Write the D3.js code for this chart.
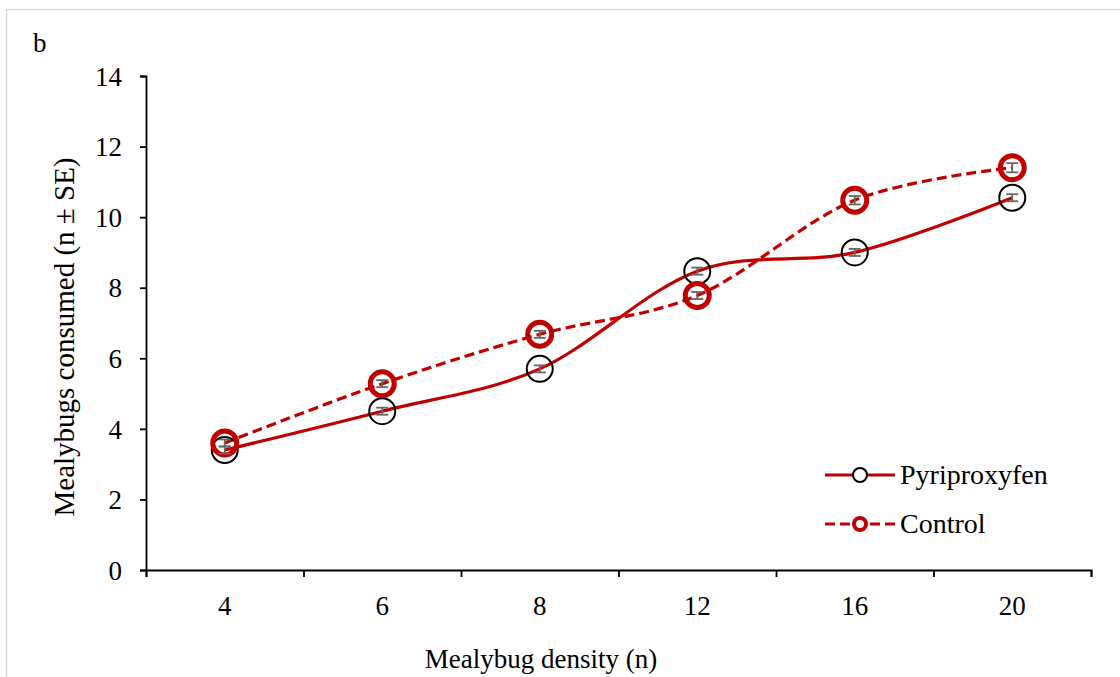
<!DOCTYPE html>
<html>
<head>
  <meta charset="utf-8">
  <title>Mealybugs consumed</title>
  <script src="https://d3js.org/d3.v7.min.js"></script>
  <style>
    body { margin: 0; background: #fff; }
  </style>
</head>
<body>
<div id="chart"></div>
<script>

// Data
const densities = ["4", "6", "8", "12", "16", "20"];
const pyriproxyfen = [3.4, 4.5, 5.7, 8.47, 9.0, 10.55];
const pyriSE = [0.1, 0.1, 0.1, 0.1, 0.1, 0.1];
const control = [3.6, 5.28, 6.68, 7.78, 10.48, 11.4];
const controlSE = [0.1, 0.1, 0.1, 0.1, 0.12, 0.13];
const yTicks = [0, 2, 4, 6, 8, 10, 12, 14];

const FONT = "'Liberation Serif', 'Times New Roman', Times, 'DejaVu Serif', serif";
const FS = 27;

const W = 1120, H = 677;
const margin = {top: 76, right: 29, bottom: 107, left: 146},
    width = W - margin.left - margin.right,
    height = H - margin.top - margin.bottom;

const svg = d3.select("#chart").append("svg")
    .attr("width", W)
    .attr("height", H)
    .attr("font-family", FONT);

// light frame around the figure
svg.append("rect")
    .attr("x", 6.5).attr("y", 9.5)
    .attr("width", 1300).attr("height", 900)
    .attr("fill", "none")
    .attr("stroke", "#d9d9d9")
    .attr("stroke-width", 1.5);

svg.append("text")
    .attr("x", 33).attr("y", 52)
    .attr("font-family", FONT)
    .attr("font-size", FS)
    .text("b");

const g = svg.append("g")
    .attr("transform", `translate(${margin.left},${margin.top})`);

// scales
const x = d3.scaleBand().domain(densities).range([0, width]).padding(0);
const xEdge = d3.scaleLinear().domain([0, densities.length]).range([0, width]);
const y = d3.scaleLinear().domain([0, 14]).range([height, 0]);

// y axis
const yAxis = g.append("g")
    .call(d3.axisLeft(y).tickValues(yTicks).tickSize(6).tickSizeOuter(6).tickPadding(18));
yAxis.attr("font-family", FONT).attr("font-size", FS);
yAxis.selectAll("path, line").attr("stroke", "#000").attr("stroke-width", 1.8);
yAxis.selectAll("text").attr("fill", "#000").attr("dy", "0.34em");

// x axis: tick marks at category edges, labels in the middle
const xTicksG = g.append("g")
    .attr("transform", `translate(0,${height})`)
    .call(d3.axisBottom(xEdge).tickValues(d3.range(densities.length + 1)).tickSize(7).tickSizeOuter(7).tickFormat(""));
xTicksG.selectAll("path, line").attr("stroke", "#000").attr("stroke-width", 1.8);

const xLab = g.append("g")
    .attr("transform", `translate(0,${height})`)
    .call(d3.axisBottom(x).tickSize(0).tickPadding(26));
xLab.attr("font-family", FONT).attr("font-size", FS);
xLab.select(".domain").remove();
xLab.selectAll("text").attr("fill", "#000");

// axis titles
svg.append("text")
    .attr("x", 541)
    .attr("y", 668)
    .attr("text-anchor", "middle")
    .attr("font-family", FONT)
    .attr("font-size", FS)
    .text("Mealybug density (n)");

svg.append("text")
    .attr("transform", "translate(74,337) rotate(-90)")
    .attr("text-anchor", "middle")
    .attr("font-family", FONT)
    .attr("font-size", 29)
    .text("Mealybugs consumed (n \u00b1 SE)");

const cx = (d, i) => x(densities[i]) + x.bandwidth() / 2;
const red = "#c00000";

const line = d3.line()
    .x((d, i) => cx(d, i))
    .y(d => y(d))
    .curve(d3.curveCardinal.tension(0));

// lines
g.append("path")
    .datum(pyriproxyfen)
    .attr("fill", "none")
    .attr("stroke", red)
    .attr("stroke-width", 3.2)
    .attr("d", line);

g.append("path")
    .datum(control)
    .attr("fill", "none")
    .attr("stroke", red)
    .attr("stroke-width", 3.2)
    .attr("stroke-dasharray", "10,5")
    .attr("d", line);

// error bars
function errorBars(vals, se) {
  const eb = g.append("g").attr("stroke", "#666").attr("stroke-width", 1.8);
  vals.forEach((v, i) => {
    const px = cx(v, i);
    eb.append("line").attr("x1", px).attr("x2", px).attr("y1", y(v - se[i])).attr("y2", y(v + se[i]));
    eb.append("line").attr("x1", px - 6).attr("x2", px + 6).attr("y1", y(v - se[i])).attr("y2", y(v - se[i]));
    eb.append("line").attr("x1", px - 6).attr("x2", px + 6).attr("y1", y(v + se[i])).attr("y2", y(v + se[i]));
  });
}

// markers
g.selectAll("circle.pyri")
  .data(pyriproxyfen)
  .join("circle")
    .attr("class", "pyri")
    .attr("cx", cx)
    .attr("cy", d => y(d))
    .attr("r", 13)
    .attr("fill", "none")
    .attr("stroke", "#000")
    .attr("stroke-width", 2);

g.selectAll("circle.ctrl")
  .data(control)
  .join("circle")
    .attr("class", "ctrl")
    .attr("cx", cx)
    .attr("cy", d => y(d))
    .attr("r", 12)
    .attr("fill", "none")
    .attr("stroke", red)
    .attr("stroke-width", 5);

errorBars(pyriproxyfen, pyriSE);
errorBars(control, controlSE);

// legend
const legend = svg.append("g").attr("transform", "translate(825,0)");
const items = [
  {name: "Pyriproxyfen", dash: null, y: 475, stroke: "#000", sw: 2, r: 7},
  {name: "Control", dash: "10,5", y: 524, stroke: red, sw: 4, r: 6}
];
items.forEach(it => {
  legend.append("line")
    .attr("x1", 0).attr("x2", 70)
    .attr("y1", it.y).attr("y2", it.y)
    .attr("stroke", red).attr("stroke-width", 3.2)
    .attr("stroke-dasharray", it.dash);
  legend.append("circle")
    .attr("cx", 35).attr("cy", it.y).attr("r", it.r)
    .attr("fill", "#fff").attr("stroke", it.stroke).attr("stroke-width", it.sw);
  legend.append("text")
    .attr("x", 75).attr("y", it.y + 9)
    .attr("font-family", FONT)
    .attr("font-size", 28)
    .text(it.name);
});

</script>
</body>
</html>
